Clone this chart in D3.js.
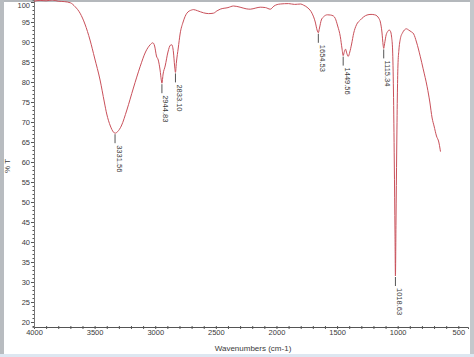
<!DOCTYPE html>
<html>
<head>
<meta charset="utf-8">
<script src="https://cdn.jsdelivr.net/npm/d3@7"></script>
<style>
  html, body { margin: 0; padding: 0; background: #fff; }
  svg { display: block; }
  text { font-family: "Liberation Sans", Arial, sans-serif; fill: #3a3a3a; }
</style>
</head>
<body>
<script>
// ---- data ----
const wavenumbers = [4000,3950,3900,3850,3800,3750,3700,3660,3620,3580,3538,3500,3455,3420,3400,3370,3345,3331.56,3310,3280,3234,3180,3125,3080,3042,3020,3005,2990,2975,2960,2950,2944.83,2935,2918,2895,2875,2863,2850,2840,2833.10,2825,2810,2795,2770,2739,2700,2685,2650,2602,2560,2520,2490,2464,2400,2354,2300,2250,2216,2170,2134,2090,2051,2020,1969,1900,1850,1800,1776,1740,1707,1680,1665,1654.53,1645,1630,1611,1580,1556,1530,1515,1495,1473,1460,1449.56,1440,1430,1420,1408,1395,1380,1363,1340,1308,1280,1253,1220,1190,1170,1155,1143,1130,1120,1115.34,1108,1095,1083,1070,1060,1050,1042,1035,1028,1022,1018.63,1014,1008,1003,998,990,978,960,945,928,910,890,868,845,813,790,757,735,716,700,680,661,650,647];
const transmittance = [100.2,100.4,100.3,100.5,100.2,100.1,99.8,98.8,97.2,94.5,90.5,86,80.5,75,72,69,67.5,67.2,67.6,69,73,78.5,83.8,87.5,89.3,89.8,89,86.5,85.5,83,80.5,79.7,82,84,87.5,89.2,89.3,87.5,84,82.4,85,88.5,92,95,97.2,98,98.1,97.8,97.3,97.1,97.2,97.8,98.2,98.6,99,98.7,98.3,98.2,98.5,98.7,98.6,98.2,99,99.5,99.6,99.4,99.5,99.2,98.5,97.2,95,93,92.3,93.5,95.5,96.3,96.8,96.75,96.5,95.9,94,91.3,88.5,86.6,87.6,88.2,87.2,86.4,87.5,89.5,92.2,94.3,95.5,96.3,96.75,96.9,96.8,96.5,95.9,95,92.5,89.2,88.4,89.6,91.8,92.6,93,92.7,91.2,88,78,60,42,31.5,45,63,76,84,88,90.8,92.3,93,93.3,93,92.6,92,90,86.3,83.3,78.8,75,71,69,66.5,65,63.2,62.6];
const peakWavenumbers = [3331.56, 2944.83, 2833.10, 1654.53, 1449.56, 1115.34, 1018.63];
const peakTransmittance = [67.2, 79.7, 82.4, 92.3, 86.6, 88.4, 31.5];
const peakLabels = ["3331.56", "2944.83", "2833.10", "1654.53", "1449.56", "1115.34", "1018.63"];
const xTickValues = [4000, 3500, 3000, 2500, 2000, 1500, 1000, 500];
const yTickValues = [20, 25, 30, 35, 40, 45, 50, 55, 60, 65, 70, 75, 80, 85, 90, 95, 100];
const xLabel = "Wavenumbers (cm-1)";
const yLabel = "% T";

// ---- layout ----
const W = 474, H = 357;
const FONT = '"Liberation Sans", Arial, sans-serif';
const svg = d3.select("body").append("svg").attr("width", W).attr("height", H);

const x = d3.scaleLinear().domain([4000, 420]).range([34, 468]);
const y = d3.scaleLinear().domain([18.75, 100.5]).range([327, 0]);

// frame strips
svg.append("rect").attr("x", 0).attr("y", 0).attr("width", W).attr("height", 2).attr("fill", "#b4b8bc");
svg.append("rect").attr("x", 0).attr("y", 0).attr("width", 4).attr("height", H).attr("fill", "#b8bcc0");
svg.append("rect").attr("x", 470).attr("y", 0).attr("width", 4).attr("height", H).attr("fill", "#c4c8cc");
svg.append("rect").attr("x", 0).attr("y", 354).attr("width", W).attr("height", 3).attr("fill", "#dde7f1");

// x axis
const xAxisG = svg.append("g").attr("transform", "translate(0,327)");
xAxisG.call(d3.axisBottom(x).tickValues(d3.range(4000, 419, -100)).tickSize(2).tickFormat(""))
  .call(g => g.select(".domain").attr("stroke", "#555").attr("stroke-width", 1))
  .call(g => g.selectAll(".tick line").attr("stroke", "#555").attr("y1", -1));
const xLab = svg.append("g").attr("transform", "translate(0,327)");
xLab.call(d3.axisBottom(x).tickValues(xTickValues).tickSize(0).tickPadding(3).tickFormat(d3.format("d")))
  .call(g => g.select(".domain").remove())
  .call(g => g.selectAll("text").attr("font-size", 7.5).attr("fill", "#3a3a3a")
    .style("font-family", FONT));

// y axis
const yAxisG = svg.append("g").attr("transform", "translate(34,0)");
yAxisG.call(d3.axisLeft(y).tickValues(d3.range(19, 101, 1)).tickSize(1.5).tickFormat(""))
  .call(g => g.select(".domain").attr("stroke", "#777").attr("stroke-width", 1))
  .call(g => g.selectAll(".tick line").attr("stroke", "#555"));
const yLab = svg.append("g").attr("transform", "translate(34,0)");
yLab.call(d3.axisLeft(y).tickValues(yTickValues).tickSize(3).tickPadding(1).tickFormat(d3.format("d")))
  .call(g => g.select(".domain").remove())
  .call(g => g.selectAll(".tick line").attr("stroke", "#555"))
  .call(g => g.selectAll("text").attr("font-size", 7.5).attr("fill", "#3a3a3a")
    .attr("dy", d => d === 100 ? "0.7em" : "0.32em")
    .style("font-family", FONT));

// axis titles
svg.append("text").attr("x", 253).attr("y", 351).attr("text-anchor", "middle")
  .attr("font-size", 8).style("font-family", FONT).text(xLabel);
svg.append("text").attr("transform", "translate(10,166) rotate(-90)").attr("text-anchor", "middle")
  .attr("font-size", 8).style("font-family", FONT).text(yLabel);

// spectrum
const pts = wavenumbers.map((w, i) => [w, transmittance[i]]);
const line = d3.line().x(d => x(d[0])).y(d => y(d[1])).curve(d3.curveMonotoneX);
svg.append("path").datum(pts).attr("d", line)
  .attr("fill", "none").attr("stroke", "#c9505a").attr("stroke-width", 1);

// peak labels
peakWavenumbers.forEach((w, i) => {
  const px = x(w), py = y(peakTransmittance[i]);
  svg.append("line").attr("x1", px).attr("x2", px).attr("y1", py + 1).attr("y2", py + 10)
    .attr("stroke", "#555").attr("stroke-width", 1);
  svg.append("text").attr("transform", `translate(${px + 1.5},${py + 12}) rotate(90)`)
    .attr("font-size", 7.5).attr("fill", "#3a3a3a").style("font-family", FONT).text(peakLabels[i]);
});
</script>
</body>
</html>
